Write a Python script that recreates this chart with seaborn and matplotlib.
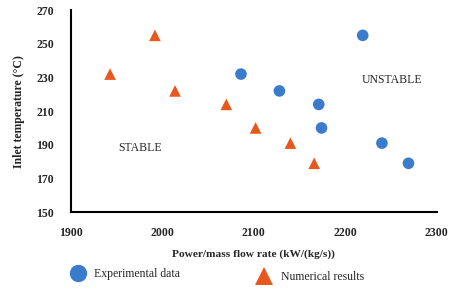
import matplotlib
matplotlib.use("Agg")
import matplotlib.pyplot as plt
import seaborn as sns
import pandas as pd
from matplotlib.lines import Line2D

# Data
exp_x = [2086, 2128, 2219, 2171, 2174, 2240, 2269]
exp_y = [232, 222, 255, 214, 200, 191, 179]
num_x = [1943, 1992, 2014, 2070, 2102, 2140, 2166]
num_y = [232, 255, 222, 214, 200, 191, 179]
series_names = ["Experimental data", "Numerical results"]
x_ticks = [1900, 2000, 2100, 2200, 2300]
y_ticks = [150, 170, 190, 210, 230, 250, 270]

blue = "#3A7CCB"
orange = "#E8571E"

df = pd.DataFrame({
    "x": exp_x + num_x,
    "y": exp_y + num_y,
    "series": [series_names[0]] * len(exp_x) + [series_names[1]] * len(num_x),
})

sns.set_theme(style="white")
plt.rcParams["font.family"] = ["Liberation Serif", "DejaVu Serif"]

fig = plt.figure(figsize=(4.56, 2.89), dpi=100)
ax = fig.add_axes([0.155, 0.266, 0.803, 0.699])

sns.scatterplot(data=df, x="x", y="y", hue="series", style="series",
                palette={series_names[0]: blue, series_names[1]: orange},
                markers={series_names[0]: "o", series_names[1]: "^"},
                s=70, linewidth=0, legend=False, ax=ax)

ax.set_xlim(1900, 2300)
ax.set_ylim(150, 270)
ax.set_xticks(x_ticks)
ax.set_yticks(y_ticks)
ax.set_xticklabels([str(v) for v in x_ticks], fontsize=8.5, fontweight="bold")
ax.set_yticklabels([str(v) for v in y_ticks], fontsize=8.5, fontweight="bold")
ax.tick_params(axis="x", direction="out", length=4, width=1.5, color="black", pad=6.5)
ax.tick_params(axis="y", direction="out", length=4, width=1.5, color="black", pad=8)
for s in ["top", "right"]:
    ax.spines[s].set_visible(False)
for s in ["left", "bottom"]:
    ax.spines[s].set_color("black")
    ax.spines[s].set_linewidth(1.5)

ax.set_xlabel("Power/mass flow rate (kW/(kg/s))", fontsize=8.2, fontweight="bold", labelpad=8)
ax.set_ylabel("Inlet temperature (°C)", fontsize=8.5, fontweight="bold", labelpad=8)

ax.text(1976, 188, "STABLE", fontsize=8.5, ha="center", va="center")
ax.text(2251, 228.5, "UNSTABLE", fontsize=8.5, ha="center", va="center")

h1 = Line2D([], [], marker="o", color="none", markerfacecolor=blue, markeredgewidth=0, markersize=12.5)
h2 = Line2D([], [], marker="^", color="none", markerfacecolor=orange, markeredgewidth=0, markersize=13.5)
fig.legend([h1], [series_names[0]], loc="center left", bbox_to_anchor=(0.142, 0.053),
           frameon=False, fontsize=8.5, handlelength=1.2, handletextpad=0.8, borderpad=0)
fig.legend([h2], [series_names[1]], loc="center left", bbox_to_anchor=(0.551, 0.042),
           frameon=False, fontsize=8.5, handlelength=1.2, handletextpad=0.8, borderpad=0)

fig.savefig("out.png", dpi=100)
